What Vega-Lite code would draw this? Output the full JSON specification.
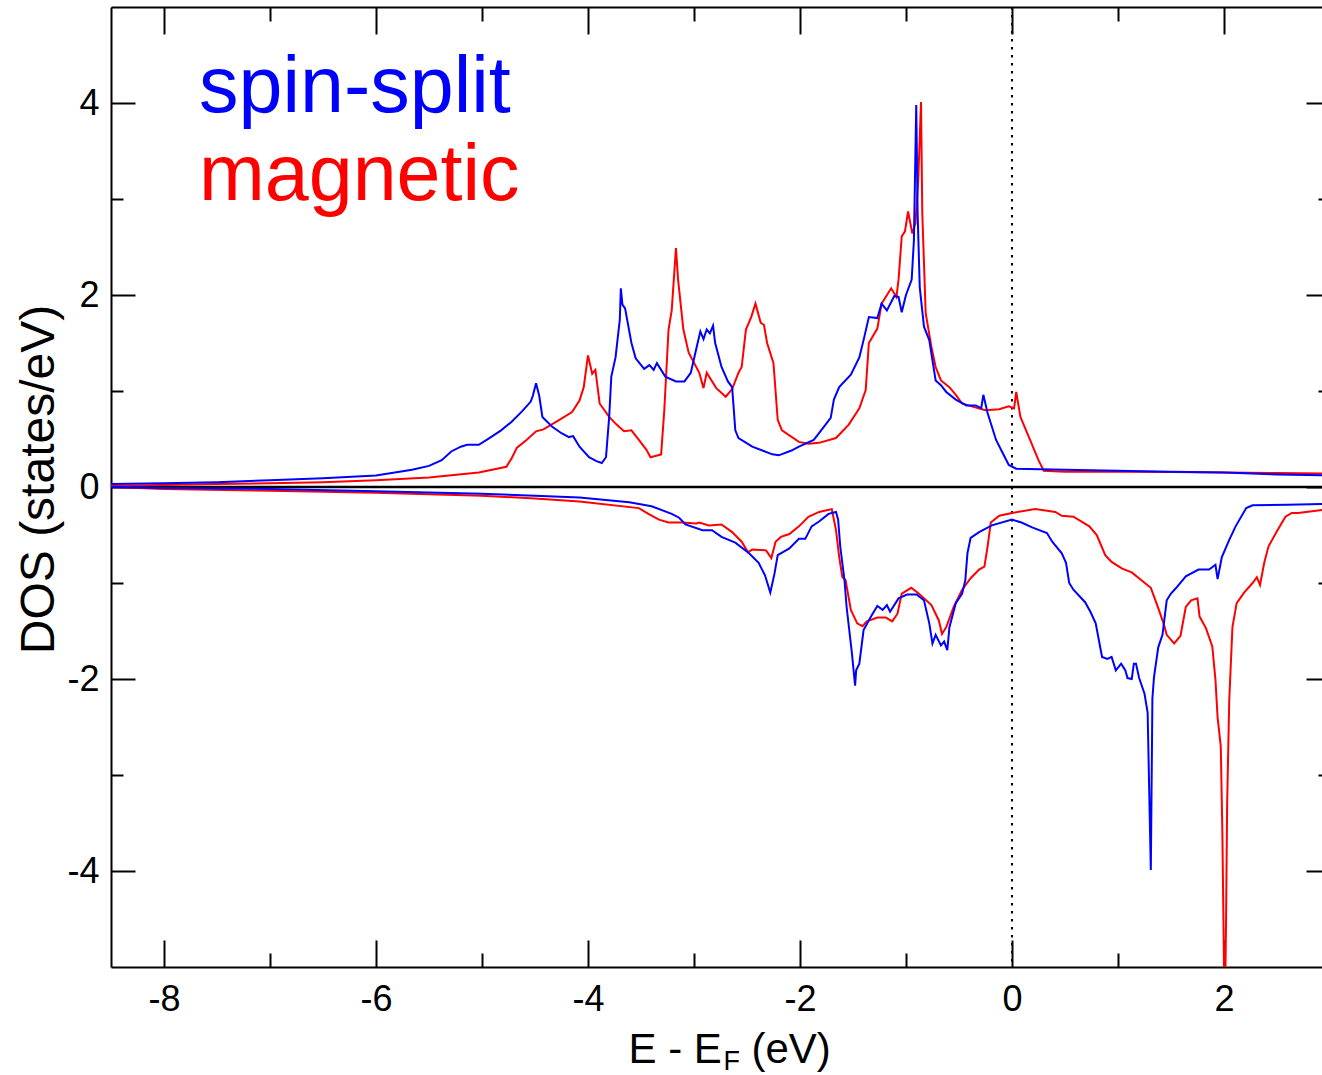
{
  "$schema": "https://vega.github.io/schema/vega-lite/v6.json",
  "width": 1211,
  "height": 960,
  "autosize": {"type": "none"},
  "padding": {"left": 111, "top": 7, "right": 0, "bottom": 108},
  "background": "white",
  "config": {
    "view": {"stroke": null},
    "axis": {"grid": false, "domainColor": "black", "domainWidth": 2, "tickColor": "black", "tickWidth": 2, "labelColor": "black", "labelFont": "Liberation Sans", "labelFontSize": 36, "titleFont": "Liberation Sans", "titleFontWeight": "normal", "titleColor": "black", "labelFlush": false, "labelOverlap": false}
  },
  "datasets": {
    "labels": [
      {"label": "spin-split", "x": -7.67, "y": 3.91},
      {"label": "magnetic", "x": -7.67, "y": 2.99}
    ],
    "dos": [
      {"s":"magnetic","p":"up","x":-8.5,"y":0.01},{"s":"magnetic","p":"up","x":-8,"y":0.02},{"s":"magnetic","p":"up","x":-7.5,"y":0.03},{"s":"magnetic","p":"up","x":-7,"y":0.04},{"s":"magnetic","p":"up","x":-6.5,"y":0.05},{"s":"magnetic","p":"up","x":-6,"y":0.07},{"s":"magnetic","p":"up","x":-5.5,"y":0.1},{"s":"magnetic","p":"up","x":-5.03,"y":0.15},{"s":"magnetic","p":"up","x":-4.77,"y":0.21},{"s":"magnetic","p":"up","x":-4.72,"y":0.3},{"s":"magnetic","p":"up","x":-4.67,"y":0.41},{"s":"magnetic","p":"up","x":-4.58,"y":0.49},{"s":"magnetic","p":"up","x":-4.49,"y":0.58},{"s":"magnetic","p":"up","x":-4.42,"y":0.6},{"s":"magnetic","p":"up","x":-4.27,"y":0.7},{"s":"magnetic","p":"up","x":-4.15,"y":0.78},{"s":"magnetic","p":"up","x":-4.08,"y":0.9},{"s":"magnetic","p":"up","x":-4.04,"y":1.04},{"s":"magnetic","p":"up","x":-4.0,"y":1.37},{"s":"magnetic","p":"up","x":-3.96,"y":1.18},{"s":"magnetic","p":"up","x":-3.93,"y":1.22},{"s":"magnetic","p":"up","x":-3.89,"y":0.87},{"s":"magnetic","p":"up","x":-3.8,"y":0.73},{"s":"magnetic","p":"up","x":-3.73,"y":0.65},{"s":"magnetic","p":"up","x":-3.66,"y":0.58},{"s":"magnetic","p":"up","x":-3.59,"y":0.59},{"s":"magnetic","p":"up","x":-3.52,"y":0.49},{"s":"magnetic","p":"up","x":-3.45,"y":0.39},{"s":"magnetic","p":"up","x":-3.41,"y":0.31},{"s":"magnetic","p":"up","x":-3.31,"y":0.34},{"s":"magnetic","p":"up","x":-3.28,"y":0.8},{"s":"magnetic","p":"up","x":-3.24,"y":1.64},{"s":"magnetic","p":"up","x":-3.21,"y":1.84},{"s":"magnetic","p":"up","x":-3.17,"y":2.49},{"s":"magnetic","p":"up","x":-3.15,"y":2.16},{"s":"magnetic","p":"up","x":-3.1,"y":1.64},{"s":"magnetic","p":"up","x":-3.05,"y":1.4},{"s":"magnetic","p":"up","x":-2.95,"y":1.19},{"s":"magnetic","p":"up","x":-2.91,"y":1.03},{"s":"magnetic","p":"up","x":-2.88,"y":1.19},{"s":"magnetic","p":"up","x":-2.79,"y":1.03},{"s":"magnetic","p":"up","x":-2.7,"y":0.94},{"s":"magnetic","p":"up","x":-2.64,"y":1.02},{"s":"magnetic","p":"up","x":-2.58,"y":1.19},{"s":"magnetic","p":"up","x":-2.55,"y":1.25},{"s":"magnetic","p":"up","x":-2.51,"y":1.64},{"s":"magnetic","p":"up","x":-2.46,"y":1.77},{"s":"magnetic","p":"up","x":-2.42,"y":1.91},{"s":"magnetic","p":"up","x":-2.37,"y":1.71},{"s":"magnetic","p":"up","x":-2.34,"y":1.69},{"s":"magnetic","p":"up","x":-2.31,"y":1.5},{"s":"magnetic","p":"up","x":-2.25,"y":1.29},{"s":"magnetic","p":"up","x":-2.21,"y":0.7},{"s":"magnetic","p":"up","x":-2.17,"y":0.59},{"s":"magnetic","p":"up","x":-2.01,"y":0.47},{"s":"magnetic","p":"up","x":-1.92,"y":0.45},{"s":"magnetic","p":"up","x":-1.82,"y":0.46},{"s":"magnetic","p":"up","x":-1.66,"y":0.51},{"s":"magnetic","p":"up","x":-1.54,"y":0.65},{"s":"magnetic","p":"up","x":-1.44,"y":0.82},{"s":"magnetic","p":"up","x":-1.38,"y":1.01},{"s":"magnetic","p":"up","x":-1.35,"y":1.5},{"s":"magnetic","p":"up","x":-1.27,"y":1.65},{"s":"magnetic","p":"up","x":-1.23,"y":1.91},{"s":"magnetic","p":"up","x":-1.14,"y":2.07},{"s":"magnetic","p":"up","x":-1.09,"y":1.98},{"s":"magnetic","p":"up","x":-1.07,"y":2.16},{"s":"magnetic","p":"up","x":-1.04,"y":2.61},{"s":"magnetic","p":"up","x":-1.01,"y":2.66},{"s":"magnetic","p":"up","x":-0.98,"y":2.87},{"s":"magnetic","p":"up","x":-0.94,"y":2.64},{"s":"magnetic","p":"up","x":-0.91,"y":2.75},{"s":"magnetic","p":"up","x":-0.884,"y":3.2},{"s":"magnetic","p":"up","x":-0.858,"y":4.01},{"s":"magnetic","p":"up","x":-0.846,"y":2.85},{"s":"magnetic","p":"up","x":-0.814,"y":1.81},{"s":"magnetic","p":"up","x":-0.76,"y":1.46},{"s":"magnetic","p":"up","x":-0.72,"y":1.25},{"s":"magnetic","p":"up","x":-0.67,"y":1.11},{"s":"magnetic","p":"up","x":-0.59,"y":1.04},{"s":"magnetic","p":"up","x":-0.53,"y":0.96},{"s":"magnetic","p":"up","x":-0.47,"y":0.87},{"s":"magnetic","p":"up","x":-0.38,"y":0.84},{"s":"magnetic","p":"up","x":-0.25,"y":0.8},{"s":"magnetic","p":"up","x":-0.12,"y":0.81},{"s":"magnetic","p":"up","x":-0.03,"y":0.84},{"s":"magnetic","p":"up","x":0.02,"y":0.82},{"s":"magnetic","p":"up","x":0.04,"y":0.99},{"s":"magnetic","p":"up","x":0.08,"y":0.73},{"s":"magnetic","p":"up","x":0.16,"y":0.52},{"s":"magnetic","p":"up","x":0.25,"y":0.28},{"s":"magnetic","p":"up","x":0.3,"y":0.17},{"s":"magnetic","p":"up","x":0.5,"y":0.16},{"s":"magnetic","p":"up","x":1,"y":0.16},{"s":"magnetic","p":"up","x":1.5,"y":0.155},{"s":"magnetic","p":"up","x":2,"y":0.15},{"s":"magnetic","p":"up","x":2.5,"y":0.145},{"s":"magnetic","p":"up","x":3,"y":0.14},
      {"s":"magnetic","p":"dn","x":-8.5,"y":0},{"s":"magnetic","p":"dn","x":-8,"y":-0.02},{"s":"magnetic","p":"dn","x":-7,"y":-0.04},{"s":"magnetic","p":"dn","x":-6,"y":-0.06},{"s":"magnetic","p":"dn","x":-5,"y":-0.09},{"s":"magnetic","p":"dn","x":-4.5,"y":-0.12},{"s":"magnetic","p":"dn","x":-4.08,"y":-0.15},{"s":"magnetic","p":"dn","x":-3.52,"y":-0.22},{"s":"magnetic","p":"dn","x":-3.43,"y":-0.28},{"s":"magnetic","p":"dn","x":-3.33,"y":-0.34},{"s":"magnetic","p":"dn","x":-3.24,"y":-0.37},{"s":"magnetic","p":"dn","x":-3.11,"y":-0.37},{"s":"magnetic","p":"dn","x":-2.98,"y":-0.38},{"s":"magnetic","p":"dn","x":-2.95,"y":-0.37},{"s":"magnetic","p":"dn","x":-2.86,"y":-0.4},{"s":"magnetic","p":"dn","x":-2.74,"y":-0.39},{"s":"magnetic","p":"dn","x":-2.64,"y":-0.47},{"s":"magnetic","p":"dn","x":-2.55,"y":-0.57},{"s":"magnetic","p":"dn","x":-2.49,"y":-0.68},{"s":"magnetic","p":"dn","x":-2.45,"y":-0.65},{"s":"magnetic","p":"dn","x":-2.32,"y":-0.66},{"s":"magnetic","p":"dn","x":-2.27,"y":-0.74},{"s":"magnetic","p":"dn","x":-2.23,"y":-0.57},{"s":"magnetic","p":"dn","x":-2.18,"y":-0.52},{"s":"magnetic","p":"dn","x":-2.1,"y":-0.49},{"s":"magnetic","p":"dn","x":-2.01,"y":-0.41},{"s":"magnetic","p":"dn","x":-1.92,"y":-0.31},{"s":"magnetic","p":"dn","x":-1.82,"y":-0.26},{"s":"magnetic","p":"dn","x":-1.7,"y":-0.23},{"s":"magnetic","p":"dn","x":-1.66,"y":-0.45},{"s":"magnetic","p":"dn","x":-1.63,"y":-0.73},{"s":"magnetic","p":"dn","x":-1.6,"y":-0.94},{"s":"magnetic","p":"dn","x":-1.57,"y":-0.97},{"s":"magnetic","p":"dn","x":-1.52,"y":-1.28},{"s":"magnetic","p":"dn","x":-1.46,"y":-1.42},{"s":"magnetic","p":"dn","x":-1.41,"y":-1.45},{"s":"magnetic","p":"dn","x":-1.37,"y":-1.4},{"s":"magnetic","p":"dn","x":-1.27,"y":-1.36},{"s":"magnetic","p":"dn","x":-1.19,"y":-1.36},{"s":"magnetic","p":"dn","x":-1.13,"y":-1.4},{"s":"magnetic","p":"dn","x":-1.08,"y":-1.32},{"s":"magnetic","p":"dn","x":-1.04,"y":-1.11},{"s":"magnetic","p":"dn","x":-0.95,"y":-1.05},{"s":"magnetic","p":"dn","x":-0.88,"y":-1.11},{"s":"magnetic","p":"dn","x":-0.76,"y":-1.23},{"s":"magnetic","p":"dn","x":-0.69,"y":-1.39},{"s":"magnetic","p":"dn","x":-0.66,"y":-1.53},{"s":"magnetic","p":"dn","x":-0.62,"y":-1.46},{"s":"magnetic","p":"dn","x":-0.55,"y":-1.25},{"s":"magnetic","p":"dn","x":-0.47,"y":-1.07},{"s":"magnetic","p":"dn","x":-0.39,"y":-0.95},{"s":"magnetic","p":"dn","x":-0.31,"y":-0.86},{"s":"magnetic","p":"dn","x":-0.26,"y":-0.83},{"s":"magnetic","p":"dn","x":-0.23,"y":-0.62},{"s":"magnetic","p":"dn","x":-0.2,"y":-0.37},{"s":"magnetic","p":"dn","x":-0.12,"y":-0.3},{"s":"magnetic","p":"dn","x":0,"y":-0.27},{"s":"magnetic","p":"dn","x":0.22,"y":-0.23},{"s":"magnetic","p":"dn","x":0.41,"y":-0.26},{"s":"magnetic","p":"dn","x":0.47,"y":-0.3},{"s":"magnetic","p":"dn","x":0.58,"y":-0.31},{"s":"magnetic","p":"dn","x":0.73,"y":-0.41},{"s":"magnetic","p":"dn","x":0.8,"y":-0.5},{"s":"magnetic","p":"dn","x":0.88,"y":-0.71},{"s":"magnetic","p":"dn","x":0.94,"y":-0.78},{"s":"magnetic","p":"dn","x":1.04,"y":-0.85},{"s":"magnetic","p":"dn","x":1.13,"y":-0.89},{"s":"magnetic","p":"dn","x":1.31,"y":-1.05},{"s":"magnetic","p":"dn","x":1.37,"y":-1.23},{"s":"magnetic","p":"dn","x":1.43,"y":-1.42},{"s":"magnetic","p":"dn","x":1.46,"y":-1.54},{"s":"magnetic","p":"dn","x":1.53,"y":-1.63},{"s":"magnetic","p":"dn","x":1.59,"y":-1.55},{"s":"magnetic","p":"dn","x":1.64,"y":-1.25},{"s":"magnetic","p":"dn","x":1.69,"y":-1.18},{"s":"magnetic","p":"dn","x":1.75,"y":-1.16},{"s":"magnetic","p":"dn","x":1.77,"y":-1.35},{"s":"magnetic","p":"dn","x":1.83,"y":-1.47},{"s":"magnetic","p":"dn","x":1.89,"y":-1.66},{"s":"magnetic","p":"dn","x":1.92,"y":-2.01},{"s":"magnetic","p":"dn","x":1.94,"y":-2.4},{"s":"magnetic","p":"dn","x":1.97,"y":-2.7},{"s":"magnetic","p":"dn","x":1.985,"y":-3.6},{"s":"magnetic","p":"dn","x":2.0,"y":-4.96},{"s":"magnetic","p":"dn","x":2.01,"y":-5.4},{"s":"magnetic","p":"dn","x":2.02,"y":-4.5},{"s":"magnetic","p":"dn","x":2.03,"y":-3.3},{"s":"magnetic","p":"dn","x":2.05,"y":-2.22},{"s":"magnetic","p":"dn","x":2.08,"y":-1.46},{"s":"magnetic","p":"dn","x":2.12,"y":-1.21},{"s":"magnetic","p":"dn","x":2.19,"y":-1.1},{"s":"magnetic","p":"dn","x":2.27,"y":-1.0},{"s":"magnetic","p":"dn","x":2.31,"y":-0.94},{"s":"magnetic","p":"dn","x":2.34,"y":-1.02},{"s":"magnetic","p":"dn","x":2.38,"y":-0.79},{"s":"magnetic","p":"dn","x":2.42,"y":-0.62},{"s":"magnetic","p":"dn","x":2.49,"y":-0.48},{"s":"magnetic","p":"dn","x":2.58,"y":-0.31},{"s":"magnetic","p":"dn","x":2.64,"y":-0.27},{"s":"magnetic","p":"dn","x":2.7,"y":-0.27},{"s":"magnetic","p":"dn","x":3,"y":-0.23},
      {"s":"spin-split","p":"up","x":-8.5,"y":0.03},{"s":"spin-split","p":"up","x":-8,"y":0.04},{"s":"spin-split","p":"up","x":-7.5,"y":0.05},{"s":"spin-split","p":"up","x":-7,"y":0.07},{"s":"spin-split","p":"up","x":-6.5,"y":0.09},{"s":"spin-split","p":"up","x":-6,"y":0.12},{"s":"spin-split","p":"up","x":-5.66,"y":0.18},{"s":"spin-split","p":"up","x":-5.5,"y":0.22},{"s":"spin-split","p":"up","x":-5.38,"y":0.28},{"s":"spin-split","p":"up","x":-5.29,"y":0.37},{"s":"spin-split","p":"up","x":-5.2,"y":0.42},{"s":"spin-split","p":"up","x":-5.14,"y":0.44},{"s":"spin-split","p":"up","x":-5.03,"y":0.44},{"s":"spin-split","p":"up","x":-4.93,"y":0.51},{"s":"spin-split","p":"up","x":-4.82,"y":0.59},{"s":"spin-split","p":"up","x":-4.72,"y":0.68},{"s":"spin-split","p":"up","x":-4.62,"y":0.79},{"s":"spin-split","p":"up","x":-4.54,"y":0.89},{"s":"spin-split","p":"up","x":-4.52,"y":0.95},{"s":"spin-split","p":"up","x":-4.49,"y":1.08},{"s":"spin-split","p":"up","x":-4.46,"y":0.95},{"s":"spin-split","p":"up","x":-4.43,"y":0.73},{"s":"spin-split","p":"up","x":-4.34,"y":0.63},{"s":"spin-split","p":"up","x":-4.25,"y":0.56},{"s":"spin-split","p":"up","x":-4.18,"y":0.52},{"s":"spin-split","p":"up","x":-4.14,"y":0.53},{"s":"spin-split","p":"up","x":-4.08,"y":0.42},{"s":"spin-split","p":"up","x":-3.99,"y":0.31},{"s":"spin-split","p":"up","x":-3.92,"y":0.27},{"s":"spin-split","p":"up","x":-3.87,"y":0.25},{"s":"spin-split","p":"up","x":-3.83,"y":0.31},{"s":"spin-split","p":"up","x":-3.8,"y":0.73},{"s":"spin-split","p":"up","x":-3.78,"y":1.15},{"s":"spin-split","p":"up","x":-3.74,"y":1.35},{"s":"spin-split","p":"up","x":-3.7,"y":1.74},{"s":"spin-split","p":"up","x":-3.69,"y":2.07},{"s":"spin-split","p":"up","x":-3.675,"y":1.9},{"s":"spin-split","p":"up","x":-3.65,"y":1.86},{"s":"spin-split","p":"up","x":-3.59,"y":1.5},{"s":"spin-split","p":"up","x":-3.55,"y":1.34},{"s":"spin-split","p":"up","x":-3.47,"y":1.23},{"s":"spin-split","p":"up","x":-3.42,"y":1.27},{"s":"spin-split","p":"up","x":-3.38,"y":1.22},{"s":"spin-split","p":"up","x":-3.35,"y":1.29},{"s":"spin-split","p":"up","x":-3.27,"y":1.15},{"s":"spin-split","p":"up","x":-3.17,"y":1.1},{"s":"spin-split","p":"up","x":-3.09,"y":1.1},{"s":"spin-split","p":"up","x":-3.03,"y":1.19},{"s":"spin-split","p":"up","x":-2.97,"y":1.48},{"s":"spin-split","p":"up","x":-2.94,"y":1.62},{"s":"spin-split","p":"up","x":-2.91,"y":1.54},{"s":"spin-split","p":"up","x":-2.88,"y":1.64},{"s":"spin-split","p":"up","x":-2.85,"y":1.6},{"s":"spin-split","p":"up","x":-2.82,"y":1.68},{"s":"spin-split","p":"up","x":-2.8,"y":1.5},{"s":"spin-split","p":"up","x":-2.74,"y":1.25},{"s":"spin-split","p":"up","x":-2.68,"y":1.1},{"s":"spin-split","p":"up","x":-2.64,"y":1.04},{"s":"spin-split","p":"up","x":-2.61,"y":0.59},{"s":"spin-split","p":"up","x":-2.58,"y":0.51},{"s":"spin-split","p":"up","x":-2.45,"y":0.42},{"s":"spin-split","p":"up","x":-2.26,"y":0.34},{"s":"spin-split","p":"up","x":-2.2,"y":0.33},{"s":"spin-split","p":"up","x":-2.08,"y":0.38},{"s":"spin-split","p":"up","x":-2.01,"y":0.42},{"s":"spin-split","p":"up","x":-1.87,"y":0.49},{"s":"spin-split","p":"up","x":-1.82,"y":0.56},{"s":"spin-split","p":"up","x":-1.71,"y":0.72},{"s":"spin-split","p":"up","x":-1.68,"y":0.91},{"s":"spin-split","p":"up","x":-1.63,"y":1.04},{"s":"spin-split","p":"up","x":-1.52,"y":1.17},{"s":"spin-split","p":"up","x":-1.44,"y":1.35},{"s":"spin-split","p":"up","x":-1.4,"y":1.53},{"s":"spin-split","p":"up","x":-1.35,"y":1.77},{"s":"spin-split","p":"up","x":-1.27,"y":1.76},{"s":"spin-split","p":"up","x":-1.23,"y":1.91},{"s":"spin-split","p":"up","x":-1.18,"y":1.84},{"s":"spin-split","p":"up","x":-1.11,"y":1.99},{"s":"spin-split","p":"up","x":-1.07,"y":1.98},{"s":"spin-split","p":"up","x":-1.04,"y":1.82},{"s":"spin-split","p":"up","x":-1.0,"y":2.0},{"s":"spin-split","p":"up","x":-0.946,"y":2.16},{"s":"spin-split","p":"up","x":-0.925,"y":2.57},{"s":"spin-split","p":"up","x":-0.903,"y":3.98},{"s":"spin-split","p":"up","x":-0.89,"y":2.85},{"s":"spin-split","p":"up","x":-0.87,"y":2.08},{"s":"spin-split","p":"up","x":-0.83,"y":1.67},{"s":"spin-split","p":"up","x":-0.78,"y":1.53},{"s":"spin-split","p":"up","x":-0.75,"y":1.32},{"s":"spin-split","p":"up","x":-0.72,"y":1.11},{"s":"spin-split","p":"up","x":-0.67,"y":1.06},{"s":"spin-split","p":"up","x":-0.62,"y":0.99},{"s":"spin-split","p":"up","x":-0.53,"y":0.91},{"s":"spin-split","p":"up","x":-0.43,"y":0.85},{"s":"spin-split","p":"up","x":-0.34,"y":0.85},{"s":"spin-split","p":"up","x":-0.29,"y":0.82},{"s":"spin-split","p":"up","x":-0.27,"y":0.96},{"s":"spin-split","p":"up","x":-0.23,"y":0.77},{"s":"spin-split","p":"up","x":-0.15,"y":0.49},{"s":"spin-split","p":"up","x":-0.09,"y":0.36},{"s":"spin-split","p":"up","x":-0.03,"y":0.23},{"s":"spin-split","p":"up","x":0.04,"y":0.19},{"s":"spin-split","p":"up","x":0.5,"y":0.18},{"s":"spin-split","p":"up","x":1,"y":0.17},{"s":"spin-split","p":"up","x":1.5,"y":0.16},{"s":"spin-split","p":"up","x":2,"y":0.15},{"s":"spin-split","p":"up","x":2.5,"y":0.13},{"s":"spin-split","p":"up","x":3,"y":0.12},
      {"s":"spin-split","p":"dn","x":-8.5,"y":0},{"s":"spin-split","p":"dn","x":-8,"y":-0.01},{"s":"spin-split","p":"dn","x":-7,"y":-0.02},{"s":"spin-split","p":"dn","x":-6,"y":-0.045},{"s":"spin-split","p":"dn","x":-5,"y":-0.07},{"s":"spin-split","p":"dn","x":-4.5,"y":-0.09},{"s":"spin-split","p":"dn","x":-4.08,"y":-0.11},{"s":"spin-split","p":"dn","x":-3.61,"y":-0.16},{"s":"spin-split","p":"dn","x":-3.4,"y":-0.2},{"s":"spin-split","p":"dn","x":-3.21,"y":-0.28},{"s":"spin-split","p":"dn","x":-3.14,"y":-0.32},{"s":"spin-split","p":"dn","x":-3.08,"y":-0.39},{"s":"spin-split","p":"dn","x":-2.92,"y":-0.45},{"s":"spin-split","p":"dn","x":-2.83,"y":-0.45},{"s":"spin-split","p":"dn","x":-2.74,"y":-0.52},{"s":"spin-split","p":"dn","x":-2.61,"y":-0.58},{"s":"spin-split","p":"dn","x":-2.48,"y":-0.69},{"s":"spin-split","p":"dn","x":-2.39,"y":-0.79},{"s":"spin-split","p":"dn","x":-2.33,"y":-0.92},{"s":"spin-split","p":"dn","x":-2.28,"y":-1.1},{"s":"spin-split","p":"dn","x":-2.24,"y":-0.9},{"s":"spin-split","p":"dn","x":-2.21,"y":-0.71},{"s":"spin-split","p":"dn","x":-2.1,"y":-0.64},{"s":"spin-split","p":"dn","x":-2.01,"y":-0.54},{"s":"spin-split","p":"dn","x":-1.95,"y":-0.54},{"s":"spin-split","p":"dn","x":-1.89,"y":-0.41},{"s":"spin-split","p":"dn","x":-1.82,"y":-0.36},{"s":"spin-split","p":"dn","x":-1.73,"y":-0.28},{"s":"spin-split","p":"dn","x":-1.66,"y":-0.26},{"s":"spin-split","p":"dn","x":-1.64,"y":-0.34},{"s":"spin-split","p":"dn","x":-1.62,"y":-0.62},{"s":"spin-split","p":"dn","x":-1.58,"y":-0.97},{"s":"spin-split","p":"dn","x":-1.56,"y":-1.25},{"s":"spin-split","p":"dn","x":-1.51,"y":-1.73},{"s":"spin-split","p":"dn","x":-1.48,"y":-2.07},{"s":"spin-split","p":"dn","x":-1.47,"y":-1.91},{"s":"spin-split","p":"dn","x":-1.44,"y":-1.84},{"s":"spin-split","p":"dn","x":-1.4,"y":-1.49},{"s":"spin-split","p":"dn","x":-1.33,"y":-1.35},{"s":"spin-split","p":"dn","x":-1.27,"y":-1.24},{"s":"spin-split","p":"dn","x":-1.22,"y":-1.28},{"s":"spin-split","p":"dn","x":-1.18,"y":-1.23},{"s":"spin-split","p":"dn","x":-1.15,"y":-1.3},{"s":"spin-split","p":"dn","x":-1.07,"y":-1.16},{"s":"spin-split","p":"dn","x":-0.99,"y":-1.12},{"s":"spin-split","p":"dn","x":-0.9,"y":-1.12},{"s":"spin-split","p":"dn","x":-0.83,"y":-1.18},{"s":"spin-split","p":"dn","x":-0.78,"y":-1.42},{"s":"spin-split","p":"dn","x":-0.75,"y":-1.63},{"s":"spin-split","p":"dn","x":-0.72,"y":-1.54},{"s":"spin-split","p":"dn","x":-0.67,"y":-1.65},{"s":"spin-split","p":"dn","x":-0.64,"y":-1.61},{"s":"spin-split","p":"dn","x":-0.61,"y":-1.7},{"s":"spin-split","p":"dn","x":-0.59,"y":-1.46},{"s":"spin-split","p":"dn","x":-0.53,"y":-1.21},{"s":"spin-split","p":"dn","x":-0.47,"y":-1.11},{"s":"spin-split","p":"dn","x":-0.44,"y":-0.97},{"s":"spin-split","p":"dn","x":-0.42,"y":-0.69},{"s":"spin-split","p":"dn","x":-0.39,"y":-0.53},{"s":"spin-split","p":"dn","x":-0.31,"y":-0.47},{"s":"spin-split","p":"dn","x":-0.19,"y":-0.4},{"s":"spin-split","p":"dn","x":0,"y":-0.34},{"s":"spin-split","p":"dn","x":0.09,"y":-0.37},{"s":"spin-split","p":"dn","x":0.19,"y":-0.42},{"s":"spin-split","p":"dn","x":0.33,"y":-0.48},{"s":"spin-split","p":"dn","x":0.38,"y":-0.57},{"s":"spin-split","p":"dn","x":0.47,"y":-0.69},{"s":"spin-split","p":"dn","x":0.51,"y":-0.79},{"s":"spin-split","p":"dn","x":0.54,"y":-1.0},{"s":"spin-split","p":"dn","x":0.58,"y":-1.07},{"s":"spin-split","p":"dn","x":0.69,"y":-1.2},{"s":"spin-split","p":"dn","x":0.74,"y":-1.3},{"s":"spin-split","p":"dn","x":0.79,"y":-1.42},{"s":"spin-split","p":"dn","x":0.85,"y":-1.77},{"s":"spin-split","p":"dn","x":0.9,"y":-1.79},{"s":"spin-split","p":"dn","x":0.94,"y":-1.77},{"s":"spin-split","p":"dn","x":0.98,"y":-1.91},{"s":"spin-split","p":"dn","x":1.03,"y":-1.84},{"s":"spin-split","p":"dn","x":1.07,"y":-1.91},{"s":"spin-split","p":"dn","x":1.09,"y":-1.99},{"s":"spin-split","p":"dn","x":1.13,"y":-2.0},{"s":"spin-split","p":"dn","x":1.15,"y":-1.84},{"s":"spin-split","p":"dn","x":1.17,"y":-1.84},{"s":"spin-split","p":"dn","x":1.2,"y":-1.99},{"s":"spin-split","p":"dn","x":1.25,"y":-2.15},{"s":"spin-split","p":"dn","x":1.28,"y":-2.35},{"s":"spin-split","p":"dn","x":1.31,"y":-3.99},{"s":"spin-split","p":"dn","x":1.325,"y":-2.2},{"s":"spin-split","p":"dn","x":1.34,"y":-1.98},{"s":"spin-split","p":"dn","x":1.38,"y":-1.67},{"s":"spin-split","p":"dn","x":1.42,"y":-1.54},{"s":"spin-split","p":"dn","x":1.46,"y":-1.18},{"s":"spin-split","p":"dn","x":1.5,"y":-1.11},{"s":"spin-split","p":"dn","x":1.55,"y":-1.05},{"s":"spin-split","p":"dn","x":1.64,"y":-0.93},{"s":"spin-split","p":"dn","x":1.76,"y":-0.86},{"s":"spin-split","p":"dn","x":1.86,"y":-0.86},{"s":"spin-split","p":"dn","x":1.92,"y":-0.81},{"s":"spin-split","p":"dn","x":1.94,"y":-0.96},{"s":"spin-split","p":"dn","x":1.98,"y":-0.73},{"s":"spin-split","p":"dn","x":2.05,"y":-0.55},{"s":"spin-split","p":"dn","x":2.11,"y":-0.41},{"s":"spin-split","p":"dn","x":2.21,"y":-0.22},{"s":"spin-split","p":"dn","x":2.27,"y":-0.19},{"s":"spin-split","p":"dn","x":2.6,"y":-0.185},{"s":"spin-split","p":"dn","x":3,"y":-0.175}
    ]
  },
  "resolve": {"axis": {"x": "independent", "y": "independent"}},
  "layer": [
    {
      "data": {"values": [{}]},
      "mark": {"type": "rule", "color": "black", "strokeWidth": 2.5},
      "encoding": {
        "y": {"datum": 0, "type": "quantitative", "scale": {"domain": [-5, 5], "nice": false, "zero": false}, "axis": null}
      }
    },
    {
      "data": {"values": [{}]},
      "mark": {"type": "rule", "color": "black", "strokeWidth": 2, "strokeDash": [2.5, 5.5]},
      "encoding": {
        "x": {"datum": 0, "type": "quantitative", "scale": {"domain": [-8.5, 2.925], "nice": false, "zero": false},
          "axis": {"orient": "bottom", "ticks": false, "labels": false, "domain": false, "title": "F", "titleFontSize": 27, "titleAnchor": null, "titleAlign": "left", "titleBaseline": "alphabetic", "titleX": 612, "titleY": 102}}
      }
    },
    {
      "data": {"name": "dos"},
      "mark": {"type": "line", "strokeWidth": 2, "clip": true},
      "encoding": {
        "x": {"field": "x", "type": "quantitative", "scale": {"domain": [-8.5, 2.925], "nice": false, "zero": false},
          "axis": {"orient": "bottom", "values": [-8, -7, -6, -5, -4, -3, -2, -1, 0, 1, 2],
            "tickSize": {"condition": {"test": "datum.value % 2 !== 0", "value": -14}, "value": -27},
            "labelExpr": "datum.value % 2 === 0 ? '' + datum.value : ''",
            "labelPadding": 42, "labelBaseline": "top",
            "title": "E - E", "titleFontSize": 42, "titleAnchor": null, "titleAlign": "left", "titleBaseline": "alphabetic", "titleX": 517, "titleY": 95}},
        "y": {"field": "y", "type": "quantitative", "scale": {"domain": [-5, 5], "nice": false, "zero": false},
          "axis": {"orient": "left", "values": [-4, -3, -2, -1, 0, 1, 2, 3, 4],
            "tickSize": {"condition": {"test": "datum.value % 2 !== 0", "value": -12}, "value": -24},
            "labelExpr": "datum.value % 2 === 0 ? '' + datum.value : ''",
            "labelPadding": 36,
            "title": "DOS (states/eV)", "titleFontSize": 48, "titleAngle": 270, "titleAnchor": null, "titleAlign": "center", "titleBaseline": "alphabetic", "titleX": -58, "titleY": 472}},
        "color": {"field": "s", "type": "nominal", "scale": {"domain": ["magnetic", "spin-split"], "range": ["#ff0000", "#0000ff"]}, "legend": null},
        "detail": {"field": "p"}
      }
    },
    {
      "data": {"name": "labels"},
      "transform": [{"filter": "datum.label === 'spin-split'"}],
      "mark": {"type": "text", "font": "Liberation Sans", "fontSize": 79, "align": "left", "baseline": "alphabetic", "color": "#0000ff"},
      "encoding": {
        "x": {"field": "x", "type": "quantitative", "scale": {"domain": [-8.5, 2.925], "nice": false, "zero": false},
          "axis": {"orient": "top", "values": [-8, -7, -6, -5, -4, -3, -2, -1, 0, 1, 2],
            "tickSize": {"condition": {"test": "datum.value % 2 !== 0", "value": -14}, "value": -27},
            "labels": false, "title": null}},
        "y": {"field": "y", "type": "quantitative", "scale": {"domain": [-5, 5], "nice": false, "zero": false},
          "axis": {"orient": "right", "offset": 8, "values": [-4, -3, -2, -1, 0, 1, 2, 3, 4],
            "tickSize": {"condition": {"test": "datum.value % 2 !== 0", "value": -12}, "value": -24},
            "labels": false, "domain": false, "title": null}},
        "text": {"field": "label"}
      }
    },
    {
      "data": {"name": "labels"},
      "transform": [{"filter": "datum.label === 'magnetic'"}],
      "mark": {"type": "text", "font": "Liberation Sans", "fontSize": 79, "align": "left", "baseline": "alphabetic", "color": "#ff0000"},
      "encoding": {
        "x": {"field": "x", "type": "quantitative", "scale": {"domain": [-8.5, 2.925], "nice": false, "zero": false},
          "axis": {"orient": "bottom", "ticks": false, "labels": false, "domain": false, "title": "(eV)", "titleFontSize": 42, "titleAnchor": null, "titleAlign": "left", "titleBaseline": "alphabetic", "titleX": 640, "titleY": 95}},
        "y": {"field": "y", "type": "quantitative", "scale": {"domain": [-5, 5], "nice": false, "zero": false}, "axis": null},
        "text": {"field": "label"}
      }
    }
  ]
}
